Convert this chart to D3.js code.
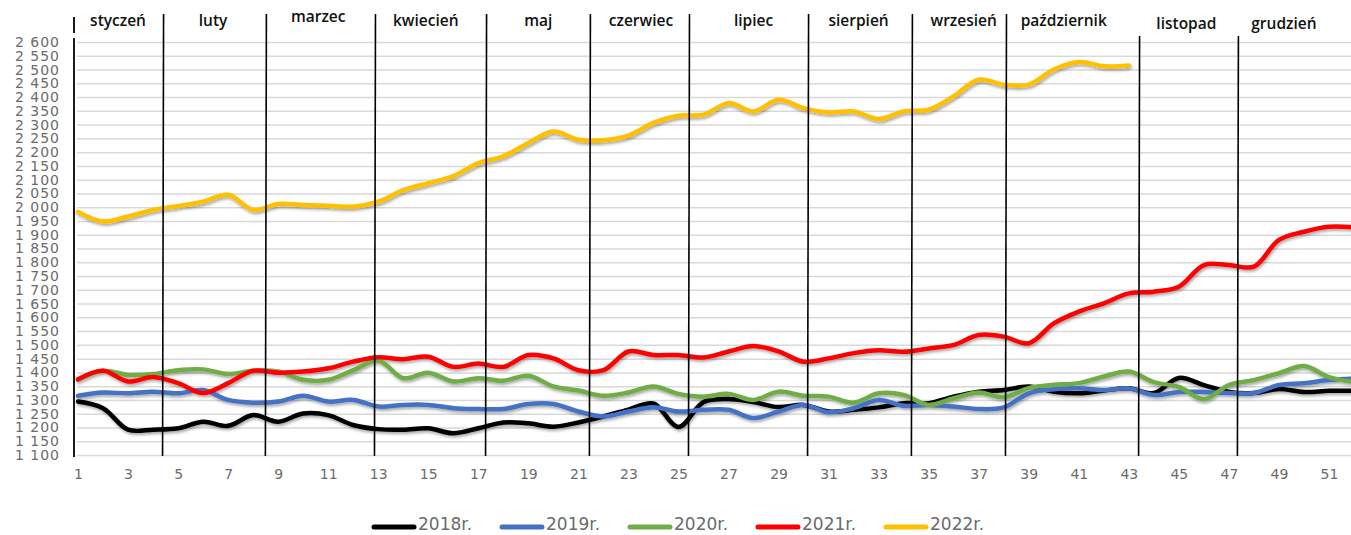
<!DOCTYPE html>
<html>
<head>
  <meta charset="utf-8">
  <title>Ceny tygodniowe</title>
  <style type="text/css">
    body {
      margin: 0;
      background-color: #fff;
    }
    svg {
      display: block;
      background-color: white;
    }
    .tick text {
      font-family: "DejaVu Sans", sans-serif;
      fill: #6b6b6b;
    }
    .grid line {
      stroke: #d9d9d9;
      stroke-width: 1.5;
    }
    .month {
      font-family: "Open Sans", sans-serif;
      font-size: 15.5px;
      font-weight: 600;
      fill: #111;
    }
    .legend text {
      font-family: "DejaVu Sans", sans-serif;
      font-size: 17px;
      fill: #6b6b6b;
    }
  </style>
  <script src="https://d3js.org/d3.v7.min.js"></script>
</head>
<body>

<script>
// weekly values, week 1..52
var weeks = d3.range(1, 53);

var v2018 = [1294,1270,1192,1192,1197,1221,1206,1245,1221,1251,1245,1209,1194,1192,1197,1179,
  1197,1218,1215,1203,1218,1240,1265,1287,1202,1292,1303,1292,1274,1282,1258,1264,1273,
  1288,1288,1312,1330,1336,1349,1330,1324,1334,1342,1325,1380,1354,1329,1325,1340,1329,1333,1333];
var v2019 = [1315,1327,1324,1330,1324,1336,1300,1290,1294,1315,1294,1300,1276,1282,1282,1270,
  1267,1267,1285,1285,1258,1240,1258,1273,1258,1264,1264,1234,1258,1282,1255,1270,1300,
  1279,1282,1276,1267,1273,1324,1339,1342,1336,1342,1318,1329,1329,1325,1325,1354,1361,1372,1378];
var v2020 = [1373,1406,1391,1394,1408,1411,1394,1406,1403,1373,1373,1408,1443,1379,1399,1367,
  1379,1370,1388,1349,1334,1315,1327,1349,1322,1312,1322,1300,1330,1315,1312,1290,1324,
  1318,1282,1306,1327,1310,1343,1355,1361,1385,1403,1365,1347,1303,1354,1372,1397,1423,1383,1365];
var v2021 = [1375,1406,1367,1383,1361,1325,1361,1406,1399,1403,1415,1439,1455,1448,1457,1420,
  1432,1420,1463,1451,1408,1408,1476,1463,1463,1454,1476,1496,1476,1439,1451,1470,1480,
  1475,1487,1500,1536,1530,1506,1578,1621,1651,1687,1693,1711,1790,1790,1784,1881,1911,1929,1927];
var v2022 = [1983,1948,1966,1990,2004,2020,2045,1990,2012,2008,2005,2002,2020,2062,2087,2113,
  2160,2185,2233,2275,2245,2243,2260,2306,2332,2336,2378,2348,2390,2360,2344,2348,2320,
  2348,2354,2403,2463,2445,2445,2500,2527,2512,2515];

var seriesNames = ["2018r.", "2019r.", "2020r.", "2021r.", "2022r."];
var seriesValues = [v2018, v2019, v2020, v2021, v2022];
var colors = ["#000000", "#4472c4", "#70ad47", "#ff0000", "#ffc000"];

var months = ["styczeń", "luty", "marzec", "kwiecień", "maj", "czerwiec", "lipiec",
  "sierpień", "wrzesień", "październik", "listopad", "grudzień"];
// month borders, in weeks (hand drawn on the original)
var monthEdges = [0.84, 4.40, 8.51, 12.87, 17.31, 21.46, 25.42, 30.18, 34.33, 38.09, 43.41, 47.36, 52.0];
// where each month name sits, in weeks
var monthLabelAt = [2.6, 6.4, 10.6, 14.9, 19.4, 23.5, 28.0, 32.2, 36.4, 40.4, 45.3, 49.2];

var width = 1351, height = 535;
var svg = d3.select("body").append("svg")
  .attr("width", width)
  .attr("height", height);

var defs = svg.append("defs");
var shadow = defs.append("filter").attr("id", "shadow")
  .attr("x", "-5%").attr("y", "-50%").attr("width", "110%").attr("height", "200%");
shadow.append("feDropShadow")
  .attr("dx", 1).attr("dy", 2).attr("stdDeviation", 1.6)
  .attr("flood-color", "#000").attr("flood-opacity", 0.35);

var x = d3.scaleLinear().domain([1, 52]).range([78, 1354]);
var y = d3.scaleLinear().domain([1100, 2600]).range([455, 42]);

var fmt = d3.formatLocale({decimal: ",", thousands: " ", grouping: [3], currency: ["", " zł"]}).format(",d");

// gridlines
svg.append("g")
  .attr("class", "grid")
  .attr("transform", "translate(77,0)")
  .call(d3.axisLeft(y).tickValues(d3.range(1100, 2601, 50)).tickSize(-(width - 77)).tickFormat(""))
  .call(function(g) { g.select(".domain").remove(); });

// y axis labels
var yaxis = svg.append("g")
  .attr("transform", "translate(60,0)")
  .call(d3.axisLeft(y).tickValues(d3.range(1100, 2601, 50)).tickSize(0).tickPadding(0).tickFormat(fmt));
yaxis.select(".domain").remove();
yaxis.selectAll("text")
  .style("font-size", "14px")
  .style("letter-spacing", "1px");

// x axis labels
var xaxis = svg.append("g")
  .attr("transform", "translate(0,455)")
  .call(d3.axisBottom(x).tickValues(d3.range(1, 52, 2)).tickSize(0).tickPadding(14));
xaxis.select(".domain").remove();
xaxis.selectAll("text").style("font-size", "14px");

// lines
var line = d3.line()
  .x(function(d, i) { return x(weeks[i]); })
  .y(function(d) { return y(d); })
  .curve(d3.curveCatmullRom.alpha(0.5));

svg.append("g")
  .attr("filter", "url(#shadow)")
  .selectAll("path")
  .data(seriesValues)
  .enter().append("path")
  .attr("d", line)
  .attr("fill", "none")
  .attr("stroke", function(d, i) { return colors[i]; })
  .attr("stroke-width", 4.5)
  .attr("stroke-linecap", "round")
  .attr("stroke-linejoin", "round");

// month borders and names
var borders = svg.append("g");
borders.append("line")
  .attr("x1", 74).attr("x2", 74).attr("y1", 17).attr("y2", 33)
  .attr("stroke", "#000").attr("stroke-width", 1.8);
borders.append("line")
  .attr("x1", 74).attr("x2", 74).attr("y1", 38).attr("y2", 457)
  .attr("stroke", "#000").attr("stroke-width", 1.8);
borders.selectAll("line.edge")
  .data(monthEdges.slice(1, 12))
  .enter().append("line")
  .attr("class", "edge")
  .attr("x1", function(d) { return x(d) + 0.5; })
  .attr("x2", function(d) { return x(d) - 0.5; })
  .attr("y1", function(d, i) { return i >= 9 ? 36 : 14; })
  .attr("y2", 456)
  .attr("stroke", "#000").attr("stroke-width", 1.6);

svg.append("g").selectAll("text")
  .data(months)
  .enter().append("text")
  .attr("class", "month")
  .attr("x", function(d, i) { return x(monthLabelAt[i]); })
  .attr("y", function(d, i) { return i == 2 ? 22 : (i >= 10 ? 29 : 26); })
  .attr("text-anchor", "middle")
  .text(function(d) { return d; });

// legend
var legend = svg.append("g").attr("class", "legend")
  .attr("transform", "translate(372,527)");
var item = legend.selectAll("g")
  .data(seriesNames)
  .enter().append("g")
  .attr("transform", function(d, i) { return "translate(" + (i * 128) + ",0)"; });
item.append("line")
  .attr("x1", 2).attr("x2", 42)
  .attr("stroke", function(d, i) { return colors[i]; })
  .attr("stroke-width", 5)
  .attr("stroke-linecap", "round");
item.append("text")
  .attr("x", 46).attr("y", 3)
  .text(function(d) { return d; });
</script>

</body>
</html>
